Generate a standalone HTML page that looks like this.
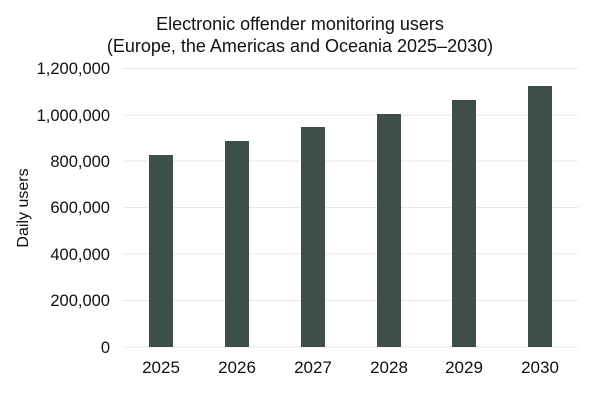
<!DOCTYPE html>
<html><head><style>body{margin:0;background:#fff}</style></head><body>
<svg width="600" height="400" xmlns="http://www.w3.org/2000/svg" font-family="Liberation Sans, sans-serif">
<text x="300" y="30" text-anchor="middle" font-size="18" fill="#111">Electronic offender monitoring users</text>
<text x="300" y="52" text-anchor="middle" font-size="18" fill="#111">(Europe, the Americas and Oceania 2025–2030)</text>
<g stroke="#e8e8e8" stroke-width="1">
<line x1="123" x2="578" y1="68.5" y2="68.5"/><line x1="123" x2="578" y1="115" y2="115"/>
<line x1="123" x2="578" y1="161" y2="161"/><line x1="123" x2="578" y1="207.5" y2="207.5"/>
<line x1="123" x2="578" y1="254" y2="254"/><line x1="123" x2="578" y1="300.5" y2="300.5"/>
<line x1="123" x2="578" y1="347" y2="347"/>
</g>
<g font-size="16.5" fill="#111" text-anchor="end">
<text x="110" y="74">1,200,000</text><text x="110" y="121">1,000,000</text>
<text x="110" y="167">800,000</text><text x="110" y="213">600,000</text>
<text x="110" y="260">400,000</text><text x="110" y="306">200,000</text>
<text x="110" y="353">0</text>
</g>
<text transform="translate(28,208) rotate(-90)" text-anchor="middle" font-size="16" fill="#111">Daily users</text>
<g fill="#3d4f47">
<rect x="149" y="155" width="24" height="192"/><rect x="225" y="141" width="24" height="206"/>
<rect x="301" y="127" width="24" height="220"/><rect x="377" y="114" width="24" height="233"/>
<rect x="452" y="100" width="24" height="247"/><rect x="528" y="86" width="24" height="261"/>
</g>
<g font-size="17" fill="#111" text-anchor="middle">
<text x="161" y="373">2025</text><text x="237" y="373">2026</text><text x="313" y="373">2027</text>
<text x="389" y="373">2028</text><text x="464" y="373">2029</text><text x="540" y="373">2030</text>
</g>
</svg>
</body></html>
